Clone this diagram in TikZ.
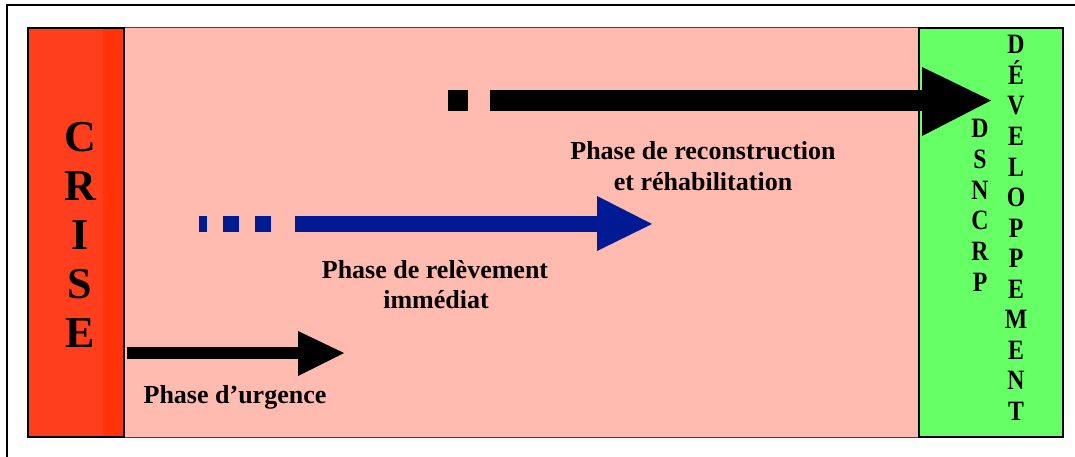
\documentclass[tikz,border=0pt]{standalone}
\usepackage{fontspec}
\setmainfont{Liberation Serif}
\definecolor{crisered}{RGB}{255,62,30}
\definecolor{crisestrip}{RGB}{255,50,8}
\definecolor{phasepink}{RGB}{255,187,176}
\definecolor{devgreen}{RGB}{102,255,102}
\definecolor{pinkedge}{RGB}{160,30,10}
\definecolor{phaseblue}{RGB}{0,26,148}
\tikzset{
  lbl/.style={font=\fontsize{26}{30}\selectfont\bfseries, align=center, inner sep=0pt},
  bigletter/.style={font=\fontsize{44}{49}\selectfont\bfseries, anchor=base, inner sep=0pt},
  devletter/.style={font=\fontsize{25}{28}\selectfont\bfseries, anchor=base, inner sep=0pt, yscale=1.12, xscale=0.95},
}
\begin{document}
\begin{tikzpicture}[x=1pt,y=-1pt]
\useasboundingbox (0,0) rectangle (1075,457);
\clip (0,0) rectangle (1075,457);
% outer frame
\draw[line width=1.5pt] (7,5) rectangle (1090,470);
% pink area
\fill[phasepink] (124,28) rectangle (919,437);
\draw[pinkedge, line width=1pt] (124,28) -- (919,28);
\draw[pinkedge, line width=1pt] (124,437) -- (919,437);
% crise box
\fill[crisered] (28,28) rectangle (124,437);
\fill[crisestrip] (103,28) rectangle (124,437);
\draw[line width=1.3pt] (28,28) rectangle (124,437);
% green box
\fill[devgreen] (919,28) rectangle (1063,437);
\draw[line width=1.3pt] (919,28) rectangle (1063,437);
% CRISE
\foreach \l [count=\i from 0] in {C,R,I,S,E}
  \node[bigletter] (crise\i) at (80,{152+48.75*\i}) {\l};
% DEVELOPPEMENT
\foreach \l [count=\i from 0] in {D,É,V,E,L,O,P,P,E,M,E,N,T}
  \node[devletter] (dev\i) at (1016,{54+30.5*\i}) {\l};
% DSNCRP
\foreach \l [count=\i from 0] in {D,S,N,C,R,P}
  \node[devletter] (dsn\i) at (980,{138+30.6*\i}) {\l};
% top black arrow
\fill[black] (448,90) rectangle (468,111);
\fill[black] (490,90) rectangle (923,111);
\fill[black] (922,67) -- (991,100.5) -- (922,136) -- cycle;
% blue arrow
\fill[phaseblue] (199,216) rectangle (207,232);
\fill[phaseblue] (223,216) rectangle (239,232);
\fill[phaseblue] (255,216) rectangle (271,232);
\fill[phaseblue] (295,216) rectangle (598,232);
\fill[phaseblue] (597,196) -- (652,224) -- (597,251) -- cycle;
% bottom black arrow
\fill[black] (127,347) rectangle (299,359);
\fill[black] (298,331) -- (344,353) -- (298,376) -- cycle;
% labels
\node[lbl, anchor=base] (recon1) at (703,160) {Phase de reconstruction};
\node[lbl, anchor=base] (recon2) at (703,190) {et réhabilitation};
\node[lbl, anchor=base] (relev1) at (435,278) {Phase de relèvement};
\node[lbl, anchor=base] (relev2) at (436,308) {immédiat};
\node[lbl, anchor=base] (urg) at (235,403) {Phase d’urgence};
\end{tikzpicture}
\end{document}
